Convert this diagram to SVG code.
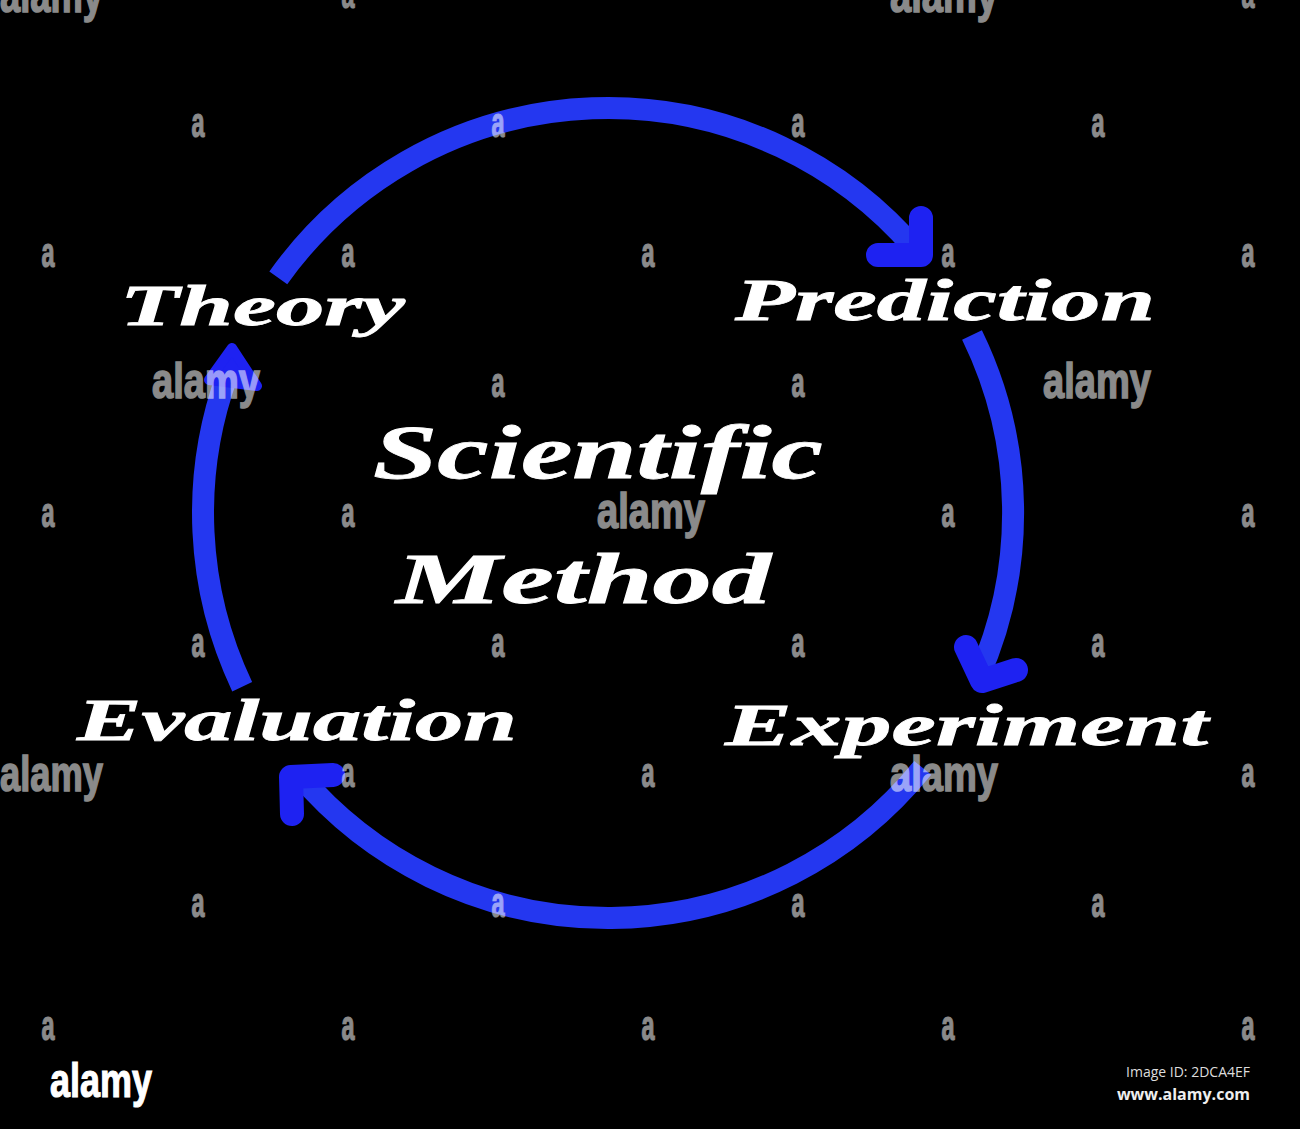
<svg xmlns="http://www.w3.org/2000/svg" width="1300" height="1129" viewBox="0 0 1300 1129">
<style>
.lbl{font-family:"Liberation Serif","DejaVu Serif",serif;font-weight:bold;font-style:italic;fill:#ffffff;stroke:#ffffff;stroke-width:0.8;}
.arc{fill:none;stroke:#2437f0;stroke-width:22;}
.head{fill:none;stroke:#1e22f2;stroke-width:24;stroke-linecap:round;stroke-linejoin:round;}
.wa{font-family:"Liberation Sans","Arial",sans-serif;font-weight:bold;font-size:42px;fill:#ffffff;stroke:#ffffff;stroke-width:1.2;text-anchor:middle;}
.wl{font-family:"Liberation Sans","Arial",sans-serif;font-weight:bold;font-size:50px;fill:#ffffff;stroke:#ffffff;stroke-width:1.5;}
</style>
<rect x="0" y="0" width="1300" height="1129" fill="#000000"/>
<g id="connectors">
  <path class="arc" d="M 278.3 277.8 A 405 405 0 0 1 918.2 252.7"/>
  <path class="head" d="M 921 218 L 921 255 L 878 255"/>
  <path class="arc" d="M 972 335 A 405 405 0 0 1 978 677.7"/>
  <path class="head" d="M 966 647 L 982 681 L 1016 670"/>
  <path class="arc" d="M 922.7 767.9 A 405 405 0 0 1 297.8 773.3"/>
  <path class="head" d="M 292 814 L 291 777 L 333 775"/>
  <path class="arc" d="M 242.2 686.7 A 405 405 0 0 1 227.4 374.5"/>
  <path d="M 209 380 L 232 348 L 257 386 Z" fill="#1e22f2" stroke="#1e22f2" stroke-width="10" stroke-linejoin="round"/>
</g>
<g id="node-theory"><text class="lbl" x="120" y="325" font-size="58" textLength="285" lengthAdjust="spacingAndGlyphs">Theory</text></g>
<g id="node-prediction"><text class="lbl" x="735" y="320" font-size="60" textLength="420" lengthAdjust="spacingAndGlyphs">Prediction</text></g>
<g id="node-experiment"><text class="lbl" x="725" y="745" font-size="60" textLength="483" lengthAdjust="spacingAndGlyphs">Experiment</text></g>
<g id="node-evaluation"><text class="lbl" x="77" y="740" font-size="60" textLength="440" lengthAdjust="spacingAndGlyphs">Evaluation</text></g>
<g id="node-center">
  <text class="lbl" x="373" y="478" font-size="76" textLength="450" lengthAdjust="spacingAndGlyphs">Scientific</text>
  <text class="lbl" x="396" y="603" font-size="72" textLength="375" lengthAdjust="spacingAndGlyphs">Method</text>
</g>
<g id="watermark" opacity="0.54">
  <text class="wl" x="0" y="12" textLength="103" lengthAdjust="spacingAndGlyphs">alamy</text>
  <text class="wl" x="890" y="12" textLength="108" lengthAdjust="spacingAndGlyphs">alamy</text>
  <text class="wa" x="348" y="8" textLength="13" lengthAdjust="spacingAndGlyphs">a</text>
  <text class="wa" x="1248" y="8" textLength="13" lengthAdjust="spacingAndGlyphs">a</text>
  <text class="wa" x="198" y="137" textLength="13" lengthAdjust="spacingAndGlyphs">a</text>
  <text class="wa" x="498" y="137" textLength="13" lengthAdjust="spacingAndGlyphs">a</text>
  <text class="wa" x="798" y="137" textLength="13" lengthAdjust="spacingAndGlyphs">a</text>
  <text class="wa" x="1098" y="137" textLength="13" lengthAdjust="spacingAndGlyphs">a</text>
  <text class="wa" x="48" y="267" textLength="13" lengthAdjust="spacingAndGlyphs">a</text>
  <text class="wa" x="348" y="267" textLength="13" lengthAdjust="spacingAndGlyphs">a</text>
  <text class="wa" x="648" y="267" textLength="13" lengthAdjust="spacingAndGlyphs">a</text>
  <text class="wa" x="948" y="267" textLength="13" lengthAdjust="spacingAndGlyphs">a</text>
  <text class="wa" x="1248" y="267" textLength="13" lengthAdjust="spacingAndGlyphs">a</text>
  <text class="wl" x="152" y="398" textLength="108" lengthAdjust="spacingAndGlyphs">alamy</text>
  <text class="wa" x="498" y="397" textLength="13" lengthAdjust="spacingAndGlyphs">a</text>
  <text class="wa" x="798" y="397" textLength="13" lengthAdjust="spacingAndGlyphs">a</text>
  <text class="wl" x="1043" y="398" textLength="108" lengthAdjust="spacingAndGlyphs">alamy</text>
  <text class="wa" x="48" y="527" textLength="13" lengthAdjust="spacingAndGlyphs">a</text>
  <text class="wa" x="348" y="527" textLength="13" lengthAdjust="spacingAndGlyphs">a</text>
  <text class="wl" x="597" y="528" textLength="108" lengthAdjust="spacingAndGlyphs">alamy</text>
  <text class="wa" x="948" y="527" textLength="13" lengthAdjust="spacingAndGlyphs">a</text>
  <text class="wa" x="1248" y="527" textLength="13" lengthAdjust="spacingAndGlyphs">a</text>
  <text class="wa" x="198" y="657" textLength="13" lengthAdjust="spacingAndGlyphs">a</text>
  <text class="wa" x="498" y="657" textLength="13" lengthAdjust="spacingAndGlyphs">a</text>
  <text class="wa" x="798" y="657" textLength="13" lengthAdjust="spacingAndGlyphs">a</text>
  <text class="wa" x="1098" y="657" textLength="13" lengthAdjust="spacingAndGlyphs">a</text>
  <text class="wl" x="0" y="791" textLength="103" lengthAdjust="spacingAndGlyphs">alamy</text>
  <text class="wa" x="348" y="787" textLength="13" lengthAdjust="spacingAndGlyphs">a</text>
  <text class="wa" x="648" y="787" textLength="13" lengthAdjust="spacingAndGlyphs">a</text>
  <text class="wl" x="890" y="791" textLength="108" lengthAdjust="spacingAndGlyphs">alamy</text>
  <text class="wa" x="1248" y="787" textLength="13" lengthAdjust="spacingAndGlyphs">a</text>
  <text class="wa" x="198" y="917" textLength="13" lengthAdjust="spacingAndGlyphs">a</text>
  <text class="wa" x="498" y="917" textLength="13" lengthAdjust="spacingAndGlyphs">a</text>
  <text class="wa" x="798" y="917" textLength="13" lengthAdjust="spacingAndGlyphs">a</text>
  <text class="wa" x="1098" y="917" textLength="13" lengthAdjust="spacingAndGlyphs">a</text>
  <text class="wa" x="48" y="1040" textLength="13" lengthAdjust="spacingAndGlyphs">a</text>
  <text class="wa" x="348" y="1040" textLength="13" lengthAdjust="spacingAndGlyphs">a</text>
  <text class="wa" x="648" y="1040" textLength="13" lengthAdjust="spacingAndGlyphs">a</text>
  <text class="wa" x="948" y="1040" textLength="13" lengthAdjust="spacingAndGlyphs">a</text>
  <text class="wa" x="1248" y="1040" textLength="13" lengthAdjust="spacingAndGlyphs">a</text>
</g>
<g id="footer">
  <text x="50" y="1097" font-family="Liberation Sans, Arial, sans-serif" font-weight="bold" font-size="48" fill="#ffffff" stroke="#ffffff" stroke-width="1.2" textLength="102" lengthAdjust="spacingAndGlyphs">alamy</text>
  <text x="1250" y="1077" font-family="Open Sans, Liberation Sans, sans-serif" font-size="14" fill="#dddddd" text-anchor="end">Image ID: 2DCA4EF</text>
  <text x="1250" y="1100" font-family="Open Sans, Liberation Sans, sans-serif" font-weight="bold" font-size="16" fill="#eeeeee" text-anchor="end">www.alamy.com</text>
</g>
</svg>
